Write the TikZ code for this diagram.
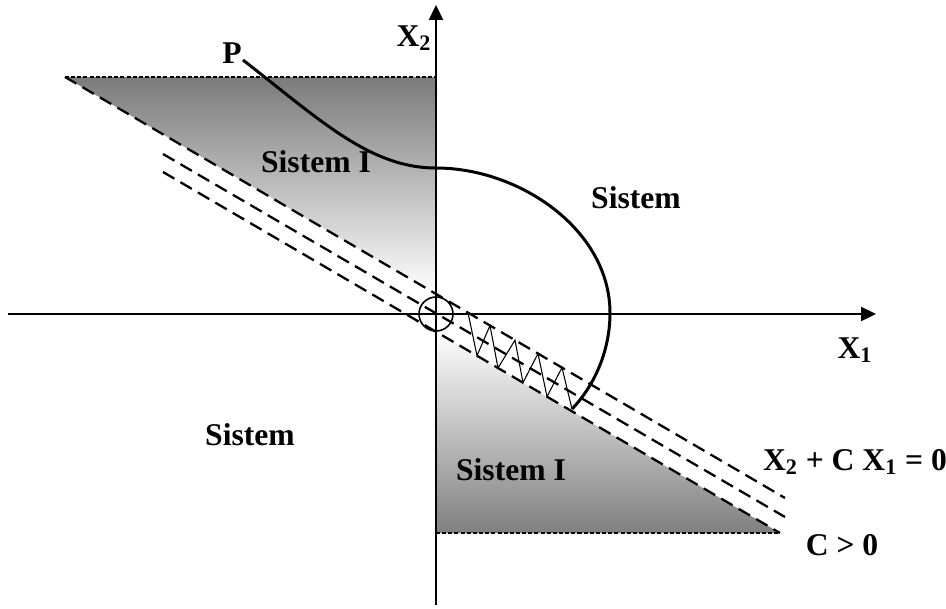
\documentclass[tikz,border=0pt]{standalone}
\usepackage{fontspec}
\setmainfont{Liberation Serif}
\usetikzlibrary{arrows.meta}

\begin{document}
\begin{tikzpicture}[x=0.2mm, y=-0.2mm, >={Triangle[length=8.5pt,width=8pt]},
		lbl/.style={font=\fontsize{18}{21}\selectfont\bfseries, inner sep=1pt},
		axis/.style={line width=1.1pt},
		band/.style={line width=1.3pt, dash pattern=on 7.5pt off 4pt},
		rim/.style={line width=0.6pt, dash pattern=on 2.3pt off 1.2pt},
		traj/.style={line width=1.7pt}]
			\useasboundingbox (0,0) rectangle (946,608);

			% shaded regions
			\shade[top color=black!52, bottom color=white] (65,77) -- (436,77) -- (436,294) -- cycle;
			\shade[top color=white, bottom color=black!50] (436,332) -- (436,533) -- (780,533) -- cycle;
			\draw[rim] (65,77) -- (436,77);
			\draw[rim] (436,533) -- (780,533);

			% boundary layer lines
			\draw[band] (65,77) -- (785,498);
			\draw[band] (163,154) -- (785,517);
			\draw[band] (163,172) -- (780,533);

			% axes
			\coordinate (O) at (436,314);
			\draw[axis,->] (8,314) -- (876,314);
			\draw[axis,->] (436,605) -- (436,5);
			\draw[line width=0.9pt] (O) circle[radius=3.4mm];

			\node[lbl] (x1) at (855,350) {X\textsubscript{1}};
			\node[lbl] (x2) at (414,38) {X\textsubscript{2}};
			\node[lbl] (P) at (232,53) {P};
			\node[lbl] (s1a) at (316,162) {Sistem I};
			\node[lbl] (s2a) at (636,198) {Sistem};
			\node[lbl] (s2b) at (250,435) {Sistem};
			\node[lbl] (s1b) at (511,470) {Sistem I};
			\node[lbl] (eq) at (855,462) {X\textsubscript{2} + C X\textsubscript{1} = 0};
			\node[lbl] (cpos) at (842,545) {C {\fontspec{Liberation Serif}>} 0};

			% trajectory and sliding motion
			\coordinate (p0) at (243,60);
			\coordinate (p1) at (436,168);
			\coordinate (p2) at (610,313);
			\coordinate (p3) at (572,409);
			\draw[traj] (p0) .. controls (320,120) and (370,168) .. (p1)
				.. controls (520,168) and (610,230) .. (p2)
				.. controls (610,350) and (595,385) .. (p3);
			\draw[line width=0.6pt] (p3) -- (562,367.6) -- (547,396.6) -- (538,353.6)
				-- (523,382.6) -- (515,340.1) -- (498,368) -- (490,325.5)
				-- (477,355.7) -- (468,312.6);
		\end{tikzpicture}
\end{document}
